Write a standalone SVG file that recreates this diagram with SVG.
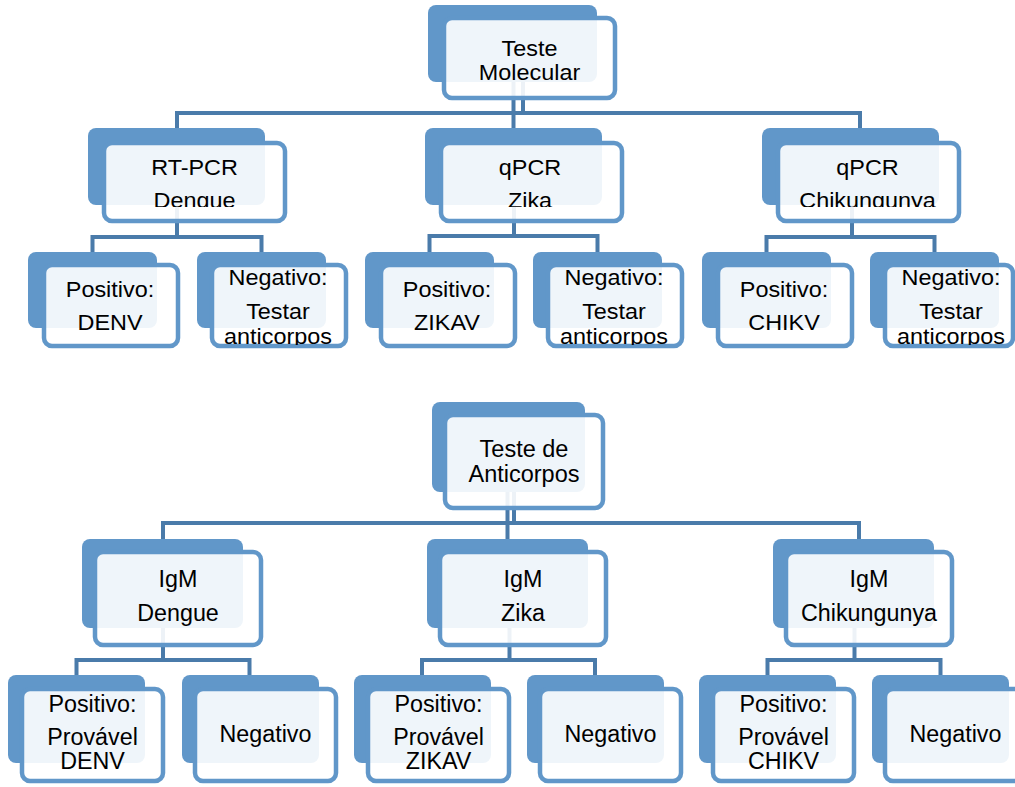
<svg xmlns="http://www.w3.org/2000/svg" width="1015" height="787" viewBox="0 0 1015 787">
<style>
.back{fill:#6197c9}
.front{fill:#ffffff;fill-opacity:0.9;stroke:#6197c9;stroke-width:4.5}
.t{font-family:"Liberation Sans",Arial,sans-serif;font-size:23.4px;text-anchor:middle;fill:#000}
.b{font-size:23.3px}
.r{font-size:23.5px}
.conn{stroke:#4a7baa;stroke-width:4;fill:none}
</style>
<defs>
<clipPath id="clipRow2" clipPathUnits="userSpaceOnUse"><rect x="0" y="100" width="1015" height="107"/></clipPath>
<clipPath id="clipPos" clipPathUnits="userSpaceOnUse"><rect x="0" y="240" width="1015" height="90"/></clipPath>
<clipPath id="clipNeg" clipPathUnits="userSpaceOnUse"><rect x="0" y="240" width="1015" height="105"/></clipPath>
</defs>
<rect width="1015" height="787" fill="#ffffff"/>
<g id="connectors" class="conn">
<path d="M523,82 V113"/>
<path d="M513.5,82 V128"/>
<path d="M177,128 V113 H860 V128"/>
<path d="M177,205 V237"/>
<path d="M92.5,252 V237 H261.5 V252"/>
<path d="M514,205 V236"/>
<path d="M429.5,252 V236 H597.5 V252"/>
<path d="M852,205 V237"/>
<path d="M766.5,252 V237 H934.5 V252"/>
<path d="M514,492 V523"/>
<path d="M507.5,492 V539"/>
<path d="M163,539 V523 H859 V539"/>
<path d="M163,628 V660"/>
<path d="M76.5,675 V660 H249.5 V675"/>
<path d="M509.5,628 V660"/>
<path d="M422,675 V660 H595 V675"/>
<path d="M854.5,628 V660"/>
<path d="M767.5,675 V660 H940.5 V675"/>
</g>
<g id="teste-molecular">
<rect class="back" x="428" y="5" width="169" height="77" rx="8"/>
<rect class="front" x="444" y="18" width="171" height="80" rx="8"/>
<text class="t" transform="translate(529.5,56) scale(1,0.935)"><tspan x="0" y="0">Teste</tspan><tspan x="0" y="26.2">Molecular</tspan></text>
</g>
<g id="rtpcr-dengue">
<rect class="back" x="88" y="128" width="177" height="77" rx="8"/>
<rect class="front" x="104" y="143" width="181" height="78" rx="8"/>
<g clip-path="url(#clipRow2)"><text class="t" transform="translate(194.5,175) scale(1,0.935)"><tspan x="0" y="0">RT-PCR</tspan><tspan x="0" y="35.3">Dengue</tspan></text></g>
</g>
<g id="qpcr-zika">
<rect class="back" x="425" y="128" width="177" height="77" rx="8"/>
<rect class="front" x="441" y="143" width="181" height="78" rx="8"/>
<g clip-path="url(#clipRow2)"><text class="t" transform="translate(530,175) scale(1,0.935)"><tspan x="0" y="0">qPCR</tspan><tspan x="0" y="35.3">Zika</tspan></text></g>
</g>
<g id="qpcr-chik">
<rect class="back" x="762" y="128" width="177" height="77" rx="8"/>
<rect class="front" x="778" y="143" width="181" height="78" rx="8"/>
<g clip-path="url(#clipRow2)"><text class="t" transform="translate(867.5,175) scale(1,0.935)"><tspan x="0" y="0">qPCR</tspan><tspan x="0" y="35.3">Chikungunya</tspan></text></g>
</g>
<g id="pos-denv">
<rect class="back" x="28" y="252" width="129" height="76" rx="8"/>
<rect class="front" x="44" y="265" width="134" height="81" rx="8"/>
<g clip-path="url(#clipPos)"><text class="t" transform="translate(110,297.4) scale(1,0.935)"><tspan x="0" y="0">Positivo:</tspan><tspan x="0" y="34.5">DENV</tspan></text></g>
</g>
<g id="neg-denv">
<rect class="back" x="197" y="252" width="129" height="76" rx="8"/>
<rect class="front" x="212" y="265" width="134" height="81" rx="8"/>
<g clip-path="url(#clipNeg)"><text class="t" transform="translate(278,285) scale(1,0.935)"><tspan x="0" y="0">Negativo:</tspan><tspan x="0" y="36.4">Testar</tspan><tspan x="0" y="63.1">anticorpos</tspan></text></g>
</g>
<g id="pos-zikav">
<rect class="back" x="365" y="252" width="129" height="76" rx="8"/>
<rect class="front" x="381" y="265" width="134" height="81" rx="8"/>
<g clip-path="url(#clipPos)"><text class="t" transform="translate(447,297.4) scale(1,0.935)"><tspan x="0" y="0">Positivo:</tspan><tspan x="0" y="34.5">ZIKAV</tspan></text></g>
</g>
<g id="neg-zika">
<rect class="back" x="533" y="252" width="129" height="76" rx="8"/>
<rect class="front" x="548" y="265" width="134" height="81" rx="8"/>
<g clip-path="url(#clipNeg)"><text class="t" transform="translate(614,285) scale(1,0.935)"><tspan x="0" y="0">Negativo:</tspan><tspan x="0" y="36.4">Testar</tspan><tspan x="0" y="63.1">anticorpos</tspan></text></g>
</g>
<g id="pos-chikv">
<rect class="back" x="702" y="252" width="129" height="76" rx="8"/>
<rect class="front" x="718" y="265" width="134" height="81" rx="8"/>
<g clip-path="url(#clipPos)"><text class="t" transform="translate(784,297.4) scale(1,0.935)"><tspan x="0" y="0">Positivo:</tspan><tspan x="0" y="34.5">CHIKV</tspan></text></g>
</g>
<g id="neg-chik">
<rect class="back" x="870" y="252" width="129" height="76" rx="8"/>
<rect class="front" x="885" y="265" width="128" height="81" rx="8"/>
<g clip-path="url(#clipNeg)"><text class="t" transform="translate(951,285) scale(1,0.935)"><tspan x="0" y="0">Negativo:</tspan><tspan x="0" y="36.4">Testar</tspan><tspan x="0" y="63.1">anticorpos</tspan></text></g>
</g>
<g id="teste-anticorpos">
<rect class="back" x="432" y="402" width="153" height="90" rx="8"/>
<rect class="front" x="445" y="415" width="158" height="93" rx="8"/>
<text class="t r" x="524" y="456.5">Teste de<tspan x="524" y="481.5">Anticorpos</tspan></text>
</g>
<g id="igm-dengue">
<rect class="back" x="82" y="539" width="161" height="89" rx="8"/>
<rect class="front" x="95" y="552" width="166" height="93" rx="8"/>
<text class="t b" x="178" y="587">IgM<tspan x="178" y="621">Dengue</tspan></text>
</g>
<g id="igm-zika">
<rect class="back" x="427" y="539" width="161" height="89" rx="8"/>
<rect class="front" x="440" y="552" width="166" height="93" rx="8"/>
<text class="t b" x="523" y="587">IgM<tspan x="523" y="621">Zika</tspan></text>
</g>
<g id="igm-chik">
<rect class="back" x="773" y="539" width="161" height="89" rx="8"/>
<rect class="front" x="786" y="552" width="166" height="93" rx="8"/>
<text class="t b" x="869" y="587">IgM<tspan x="869" y="621">Chikungunya</tspan></text>
</g>
<g id="pos-provavel-denv">
<rect class="back" x="8" y="675" width="137" height="88" rx="8"/>
<rect class="front" x="22" y="689" width="141" height="92" rx="8"/>
<text class="t b" x="92.5" y="712">Positivo:<tspan x="92.5" y="745">Provável</tspan><tspan x="92.5" y="769">DENV</tspan></text>
</g>
<g id="neg-igm-dengue">
<rect class="back" x="182" y="675" width="137" height="88" rx="8"/>
<rect class="front" x="195" y="689" width="141" height="92" rx="8"/>
<text class="t b" x="265.5" y="742">Negativo</text>
</g>
<g id="pos-provavel-zikav">
<rect class="back" x="354" y="675" width="137" height="88" rx="8"/>
<rect class="front" x="368" y="689" width="141" height="92" rx="8"/>
<text class="t b" x="438.5" y="712">Positivo:<tspan x="438.5" y="745">Provável</tspan><tspan x="438.5" y="769">ZIKAV</tspan></text>
</g>
<g id="neg-igm-zika">
<rect class="back" x="527" y="675" width="137" height="88" rx="8"/>
<rect class="front" x="540" y="689" width="141" height="92" rx="8"/>
<text class="t b" x="610.5" y="742">Negativo</text>
</g>
<g id="pos-provavel-chikv">
<rect class="back" x="699" y="675" width="137" height="88" rx="8"/>
<rect class="front" x="713" y="689" width="141" height="92" rx="8"/>
<text class="t b" x="783.5" y="712">Positivo:<tspan x="783.5" y="745">Provável</tspan><tspan x="783.5" y="769">CHIKV</tspan></text>
</g>
<g id="neg-igm-chik">
<rect class="back" x="872" y="675" width="137" height="88" rx="8"/>
<rect class="front" x="885" y="689" width="141" height="92" rx="8"/>
<text class="t b" x="955.5" y="742">Negativo</text>
</g>
</svg>
